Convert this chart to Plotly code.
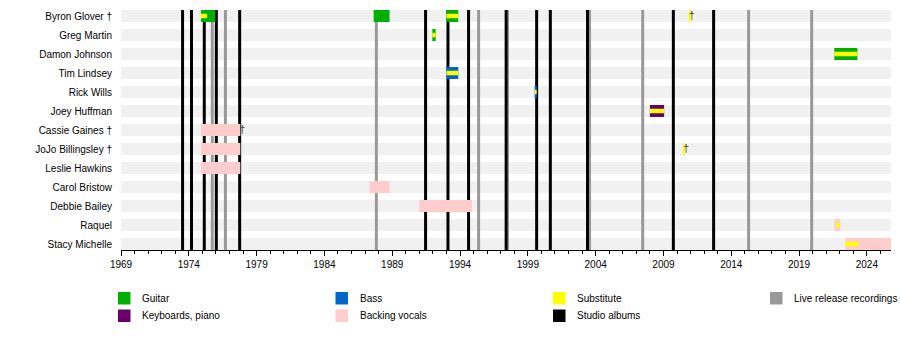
import plotly.graph_objects as go

# ---------------- data ----------------
MEMBERS = ["Byron Glover †", "Greg Martin", "Damon Johnson", "Tim Lindsey", "Rick Wills",
           "Joey Huffman", "Cassie Gaines †", "JoJo Billingsley †", "Leslie Hawkins",
           "Carol Bristow", "Debbie Bailey", "Raquel", "Stacy Michelle"]

# main role bars: member, role, start, end
BAR_MEMBER = ["Byron Glover †", "Byron Glover †", "Byron Glover †", "Byron Glover †",
              "Greg Martin", "Damon Johnson", "Tim Lindsey", "Rick Wills", "Joey Huffman",
              "Cassie Gaines †", "JoJo Billingsley †", "JoJo Billingsley †", "Leslie Hawkins",
              "Carol Bristow", "Debbie Bailey", "Raquel", "Stacy Michelle"]
BAR_ROLE = ["Guitar", "Guitar", "Guitar", "Substitute",
            "Guitar", "Guitar", "Bass", "Bass", "Keyboards, piano",
            "Backing vocals", "Backing vocals", "Substitute", "Backing vocals",
            "Backing vocals", "Backing vocals", "Backing vocals", "Backing vocals"]
BAR_START = [1974.9, 1987.63, 1993.0, 2010.9,
             1991.96, 2021.6, 1993.0, 1999.5, 2008.0,
             1974.9, 1974.9, 2010.45, 1974.9,
             1987.33, 1991.0, 2021.6, 2022.4]
BAR_END = [1975.95, 1988.8, 1993.87, 2011.0,
           1992.2, 2023.3, 1993.87, 1999.65, 2009.05,
           1977.8, 1977.8, 2010.55, 1977.8,
           1988.8, 1994.88, 2022.05, 2025.8]

# substitute (thin) bars
SUB_MEMBER = ["Byron Glover †", "Byron Glover †", "Greg Martin", "Damon Johnson", "Tim Lindsey",
              "Rick Wills", "Joey Huffman", "Raquel", "Stacy Michelle"]
SUB_START = [1974.9, 1993.0, 1991.96, 2021.6, 1993.0, 1999.5, 2008.0, 2021.7, 2022.4]
SUB_END = [1975.35, 1993.87, 1992.2, 2023.3, 1993.87, 1999.65, 2009.05, 2022.0, 2023.4]

# deaths (dagger marks)
DEATH_MEMBER = ["Byron Glover †", "Cassie Gaines †", "JoJo Billingsley †"]
DEATH_YEAR = [2011.1, 1977.95, 2010.67]

STUDIO_ALBUMS = [1973.54, 1974.2, 1975.14, 1976.03, 1977.75, 1991.46, 1993.11, 1994.63,
                 1997.4, 1999.65, 2000.66, 2003.4, 2009.73, 2012.7]
LIVE_RELEASES = [1975.73, 1976.7, 1987.83, 1995.37, 1997.5, 2003.55, 2007.47, 2015.28, 2019.93]

START_YEAR = 1969
END_YEAR = 2025.78

ROLE_COLORS = {
    "Guitar": "#00b000",
    "Keyboards, piano": "#6a006a",
    "Bass": "#0066cc",
    "Backing vocals": "#ffcccc",
    "Substitute": "#ffff00",
    "Studio albums": "#000000",
    "Live release recordings": "#999999",
}
LEGEND_COLUMNS = [["Guitar", "Keyboards, piano"], ["Bass", "Backing vocals"],
                  ["Substitute", "Studio albums"], ["Live release recordings"]]

# ---------------- layout constants ----------------
W, H = 900, 350
ML, MR, MT, MB = 121, 9, 10, 100
PW, PH = W - ML - MR, H - MT - MB
ROW_PX = 19.0
BAR_H = 12 / ROW_PX
SUB_H = 4.5 / ROW_PX
FONT = "Liberation Sans, Arial, sans-serif"
Y_TOP = -6 / ROW_PX
Y_BOTTOM = len(MEMBERS) - 1 + 6 / ROW_PX

fig = go.Figure()

shapes = []
# background stripes
for m in MEMBERS:
    i = MEMBERS.index(m)
    shapes.append(dict(type="rect", xref="x", yref="y", x0=START_YEAR, x1=END_YEAR,
                       y0=i - BAR_H / 2, y1=i + BAR_H / 2, fillcolor="#f1f1f1",
                       line=dict(width=0), layer="below"))
# release lines
for yr in LIVE_RELEASES:
    shapes.append(dict(type="line", xref="x", yref="y", x0=yr, x1=yr, y0=Y_TOP, y1=Y_BOTTOM,
                       line=dict(color=ROLE_COLORS["Live release recordings"], width=3),
                       layer="below"))
for yr in STUDIO_ALBUMS:
    shapes.append(dict(type="line", xref="x", yref="y", x0=yr, x1=yr, y0=Y_TOP, y1=Y_BOTTOM,
                       line=dict(color=ROLE_COLORS["Studio albums"], width=3),
                       layer="below"))

# main bars, one trace per role
for role in ["Guitar", "Keyboards, piano", "Bass", "Backing vocals", "Substitute"]:
    idx = [k for k, r in enumerate(BAR_ROLE) if r == role]
    if not idx:
        continue
    fig.add_trace(go.Bar(
        orientation="h",
        y=[MEMBERS.index(BAR_MEMBER[k]) for k in idx],
        base=[BAR_START[k] for k in idx],
        x=[BAR_END[k] - BAR_START[k] for k in idx],
        width=BAR_H, marker=dict(color=ROLE_COLORS[role], line=dict(width=0)),
        showlegend=False, hoverinfo="skip", name=role))

# substitute thin bars
fig.add_trace(go.Bar(
    orientation="h",
    y=[MEMBERS.index(m) for m in SUB_MEMBER],
    base=SUB_START,
    x=[e - s for s, e in zip(SUB_START, SUB_END)],
    width=SUB_H, marker=dict(color=ROLE_COLORS["Substitute"], line=dict(width=0)),
    showlegend=False, hoverinfo="skip", name="Substitute"))

# daggers
fig.add_trace(go.Scatter(
    x=DEATH_YEAR, y=[MEMBERS.index(m) for m in DEATH_MEMBER], mode="text", text=["†"] * len(DEATH_YEAR),
    textposition="middle center", textfont=dict(family=FONT, size=11, color="#444444"),
    showlegend=False, hoverinfo="skip"))

# manual legend
annotations = []
col_x = [118, 335.5, 553, 770]
row_y = [292, 309.5]
SQ = 12.5
for c, col in enumerate(LEGEND_COLUMNS):
    for r, name in enumerate(col):
        px0, py0 = col_x[c], row_y[r]
        shapes.append(dict(type="rect", xref="paper", yref="paper",
                           x0=(px0 - ML) / PW, x1=(px0 + SQ - ML) / PW,
                           y0=(MT + PH - py0) / PH, y1=(MT + PH - py0 - SQ) / PH,
                           fillcolor=ROLE_COLORS[name], line=dict(width=0)))
        annotations.append(dict(xref="paper", yref="paper", x=(px0 + 22 - ML) / PW,
                                y=(MT + PH - py0 - SQ / 2) / PH, text=name, showarrow=False,
                                xanchor="left", yanchor="middle",
                                font=dict(family=FONT, size=10, color="#000000")))

fig.update_layout(
    width=W, height=H, margin=dict(l=ML, r=MR, t=MT, b=MB, pad=0),
    plot_bgcolor="white", paper_bgcolor="white", barmode="overlay",
    shapes=shapes, annotations=annotations,
    font=dict(family=FONT, size=10, color="#000000"),
    xaxis=dict(range=[START_YEAR, END_YEAR], tick0=START_YEAR, dtick=5, ticks="outside",
               ticklen=5, tickwidth=1, tickcolor="black", showline=True, linecolor="black",
               linewidth=1, showgrid=False, zeroline=False,
               tickfont=dict(family=FONT, size=10, color="#000000"),
               minor=dict(dtick=1, tick0=START_YEAR, ticks="outside", ticklen=3,
                          tickcolor="black", showgrid=False)),
    yaxis=dict(range=[Y_BOTTOM, Y_TOP],
               tickvals=list(range(len(MEMBERS))), ticktext=MEMBERS,
               showgrid=False, zeroline=False, showline=False, ticks="",
               ticklabelstandoff=8,
               tickfont=dict(family=FONT, size=10, color="#000000")),
)

fig.write_html("out.html")
